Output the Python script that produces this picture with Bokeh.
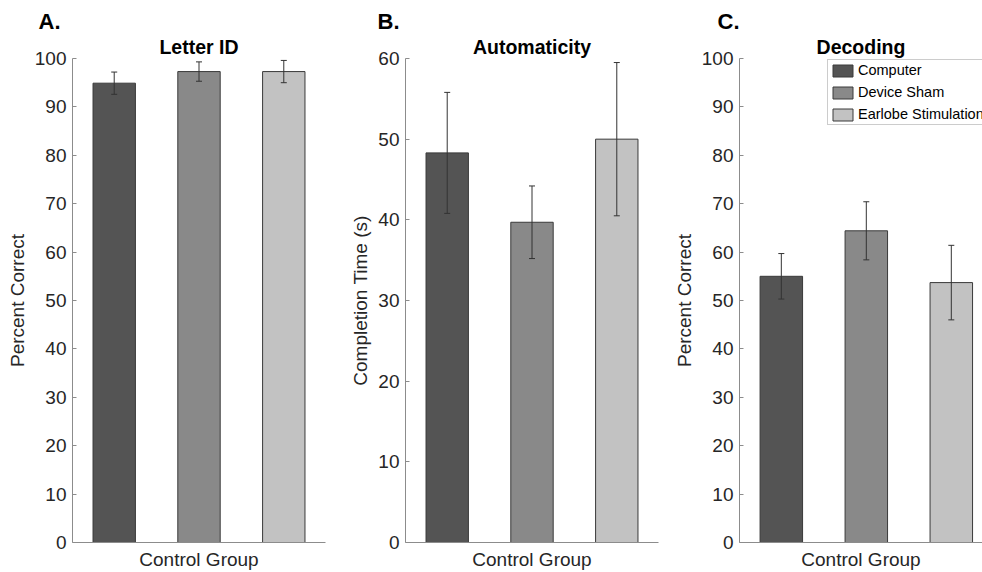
from bokeh.plotting import figure
from bokeh.models import (ColumnDataSource, Range1d, FixedTicker, Whisker, TeeHead,
                          Legend, LegendItem, Title)
from bokeh.layouts import row
from bokeh.embed import file_html
from bokeh.resources import INLINE

# ---- data ----
conditions = ["Computer", "Device Sham", "Earlobe Stimulation"]
positions = [1, 2, 3]
colors = ["#545454", "#898989", "#c2c2c2"]
x_label = "Control Group"

letter_id_mean = [94.9, 97.3, 97.3]
letter_id_err = [2.3, 2.0, 2.3]

automaticity_mean = [48.3, 39.7, 50.0]
automaticity_err = [7.5, 4.5, 9.5]

decoding_mean = [55.0, 64.4, 53.7]
decoding_err = [4.7, 6.0, 7.7]

FONT = "Liberation Sans"
TXT = "#262626"
AXC = "#8c8c8c"


def make_panel(letter, title, ylabel, means, errs, ymax, width, bl, br, x_end,
               letter_offset, legend=False):
    p = figure(width=width, height=572, output_backend="svg", toolbar_location=None,
               title=None,
               x_range=Range1d(0.508, x_end), y_range=Range1d(0, ymax),
               min_border_left=bl, min_border_right=br, min_border_top=58,
               min_border_bottom=28)
    p.outline_line_color = None
    p.grid.visible = False
    p.background_fill_color = "white"
    p.border_fill_color = "white"

    src = ColumnDataSource(dict(
        x=positions, top=means, color=colors, name=conditions,
        upper=[m + e for m, e in zip(means, errs)],
        lower=[m - e for m, e in zip(means, errs)],
    ))
    r = p.vbar(x="x", top="top", bottom=0, width=0.5, source=src,
               fill_color="color", line_color="#3a3a3a", line_width=1)

    w = Whisker(source=src, base="x", upper="upper", lower="lower",
                line_color="#333333", line_width=1, level="annotation",
                upper_head=TeeHead(size=6, line_color="#333333", line_width=1),
                lower_head=TeeHead(size=6, line_color="#333333", line_width=1))
    p.add_layout(w)

    # axes
    p.xaxis.ticker = FixedTicker(ticks=[])
    p.xaxis.axis_label = x_label
    p.xaxis.axis_label_text_font = FONT
    p.xaxis.axis_label_text_font_size = "19px"
    p.xaxis.axis_label_text_font_style = "normal"
    p.xaxis.axis_label_text_color = TXT
    p.xaxis.axis_label_standoff = 6
    p.xaxis.major_label_standoff = 0
    p.xaxis.major_tick_out = 0
    p.xaxis.major_tick_in = 0
    p.xaxis.minor_tick_out = 0
    p.xaxis.axis_line_color = AXC

    p.yaxis.ticker = FixedTicker(ticks=list(range(0, ymax + 1, 10)))
    p.yaxis.axis_label = ylabel
    p.yaxis.axis_label_text_font = FONT
    p.yaxis.axis_label_text_font_size = "19px"
    p.yaxis.axis_label_text_font_style = "normal"
    p.yaxis.axis_label_text_color = TXT
    p.yaxis.axis_label_standoff = 4
    p.yaxis.major_label_text_font = FONT
    p.yaxis.major_label_text_font_size = "19px"
    p.yaxis.major_label_text_color = TXT
    p.yaxis.major_label_standoff = 6
    p.yaxis.major_tick_in = 4
    p.yaxis.major_tick_out = 0
    p.yaxis.minor_tick_in = 0
    p.yaxis.minor_tick_out = 0
    p.yaxis.axis_line_color = AXC
    p.yaxis.major_tick_line_color = AXC

    # panel title (nearest the frame), then panel letter above it
    p.add_layout(Title(text=title, align="center", text_font=FONT,
                       text_font_size="19.5px", text_font_style="bold",
                       text_color="black", standoff=1, text_line_height=0.8), "above")
    p.add_layout(Title(text=letter, align="left", offset=letter_offset,
                       text_font=FONT, text_font_size="22px",
                       text_font_style="bold", text_color="black",
                       standoff=0), "above")

    if legend:
        items = [LegendItem(label=conditions[i], renderers=[r], index=i) for i in range(3)]
        lg = Legend(items=items, location=(88, 417), orientation="vertical",
                    label_text_font=FONT, label_text_font_size="14.5px",
                    label_text_color="black", glyph_width=25, glyph_height=15,
                    label_height=16, label_standoff=3, spacing=6, padding=2,
                    margin=0, border_line_color="#999999", border_line_width=1,
                    background_fill_color="white", background_fill_alpha=1)
        p.add_layout(lg)
    return p


pa = make_panel("A.", "Letter ID", "Percent Correct", letter_id_mean, letter_id_err,
                100, 345, 72, 20, 3.492, -34)
pb = make_panel("B.", "Automaticity", "Completion Time (s)", automaticity_mean,
                automaticity_err, 60, 324, 60, 11, 3.492, -28)
pc = make_panel("C.", "Decoding", "Percent Correct", decoding_mean, decoding_err,
                100, 313, 70, 0, 3.367, -22, legend=True)

layout = row(pa, pb, pc)
open("out.html", "w").write(file_html(layout, INLINE))
